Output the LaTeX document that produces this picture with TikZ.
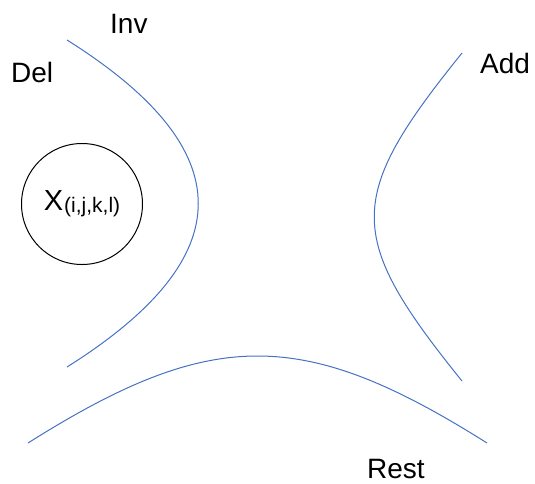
\documentclass[tikz,border=0pt]{standalone}
\usepackage{fontspec}
\setmainfont{Liberation Sans}
\definecolor{curveblue}{HTML}{4472C4}
\begin{document}
\begin{tikzpicture}[x=1pt,y=-1pt,
  curve/.style={draw=curveblue,line width=1pt},
  lbl/.style={anchor=base west,inner sep=0pt,font=\fontsize{28}{34}\selectfont},
  setnode/.style={draw=black,line width=1pt,circle,minimum size=121pt,inner sep=0pt}]
\useasboundingbox (0,0) rectangle (535,483);
% curves
\draw[curve] (67,40) .. controls (242,150) and (242,257) .. (67,367);
\draw[curve] (462,53) .. controls (345,198) and (345,236) .. (462,381);
\draw[curve] (28,443) .. controls (212,327) and (303,327) .. (487,443);
% set node
\node[setnode] (x) at (82,204) {\fontsize{29}{34}\selectfont X\kern1pt\raisebox{-2pt}{\fontsize{21}{25}\selectfont(i,j,k,l)}};
% labels
\node[lbl] (inv) at (110,33) {Inv};
\node[lbl] (del) at (11,82) {Del};
\node[lbl] (add) at (480,73) {Add};
\node[lbl] (rest) at (367,478) {Rest};
\end{tikzpicture}
\end{document}
